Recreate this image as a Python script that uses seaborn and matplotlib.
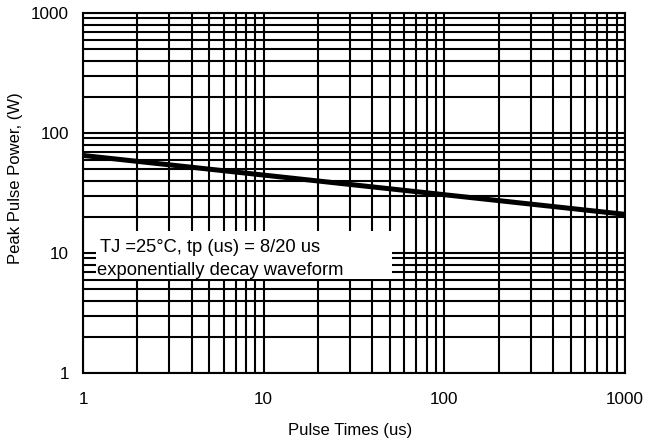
import matplotlib
matplotlib.use("Agg")
import matplotlib.pyplot as plt
import matplotlib.patches as mpatches
import seaborn as sns
import pandas as pd
from matplotlib.ticker import FixedLocator, NullFormatter, FixedFormatter

sns.set_style("white")
plt.rcParams['font.family'] = ['Liberation Sans', 'DejaVu Sans']
plt.rcParams['text.color'] = 'black'
plt.rcParams['axes.labelcolor'] = 'black'
plt.rcParams['xtick.color'] = 'black'
plt.rcParams['ytick.color'] = 'black'

pulse_time = [1, 1000]
peak_power = [65, 21]
xtick_vals = [1, 10, 100, 1000]
xtick_labels = ["1", "10", "100", "1000"]
ytick_vals = [1, 10, 100, 1000]
ytick_labels = ["1", "10", "100", "1000"]
note_lines = ["TJ =25°C, tp (us) = 8/20 us", "exponentially decay waveform"]

df = pd.DataFrame({"t": pulse_time, "p": peak_power})

fig = plt.figure(figsize=(6.47, 4.46), dpi=100)
ax = fig.add_axes([83/647, 1 - 373/446, (625-83)/647, (373-13)/446])

ax.set_xscale("log")
ax.set_yscale("log")
ax.set_xlim(1, 1000)
ax.set_ylim(1, 1000)

minors = [m * 10**e for e in range(0, 3) for m in range(2, 10)]
ax.xaxis.set_major_locator(FixedLocator(xtick_vals))
ax.xaxis.set_major_formatter(FixedFormatter(xtick_labels))
ax.yaxis.set_major_locator(FixedLocator(ytick_vals))
ax.yaxis.set_major_formatter(FixedFormatter(ytick_labels))
ax.xaxis.set_minor_locator(FixedLocator(minors))
ax.yaxis.set_minor_locator(FixedLocator(minors))
ax.xaxis.set_minor_formatter(NullFormatter())
ax.yaxis.set_minor_formatter(NullFormatter())

ax.grid(True, which="both", color="black", linewidth=1.5)
ax.set_axisbelow(True)
ax.tick_params(which="both", length=0, labelsize=12.3, labelcolor="black")
ax.tick_params(axis="x", pad=14)
ax.tick_params(axis="y", pad=10)
for s in ax.spines.values():
    s.set_color("black")
    s.set_linewidth(1.5)

sns.lineplot(data=df, x="t", y="p", ax=ax, color="black", linewidth=3.6, zorder=3)

# white note box
ax.add_patch(mpatches.Rectangle((0.024, 0.261), 0.546, 0.133, transform=ax.transAxes,
                                facecolor="white", edgecolor="none", zorder=4))
ax.text(0.0314, 0.336, note_lines[0], transform=ax.transAxes, fontsize=13.2,
        va="baseline", ha="left", zorder=5, color="black")
ax.text(0.0265, 0.272, note_lines[1], transform=ax.transAxes, fontsize=13.2,
        va="baseline", ha="left", zorder=5, color="black")

ax.set_xlabel("Pulse Times (us)", fontsize=12, color="black")
ax.set_ylabel("Peak Pulse Power, (W)", fontsize=12, color="black")
ax.xaxis.set_label_coords(0.492, -0.14)
ax.yaxis.set_label_coords(-0.125, 0.542)
ax.yaxis.label.set_va("center")

fig.savefig("out.png", dpi=100)
